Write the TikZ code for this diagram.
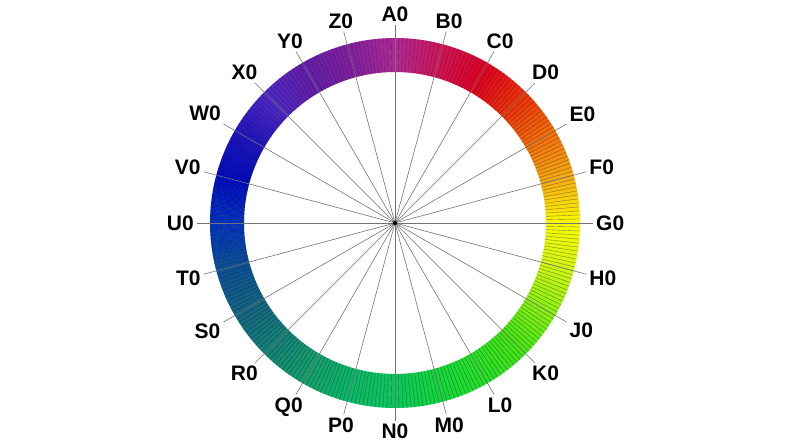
\documentclass[tikz,border=0pt]{standalone}
\usepackage{fontspec}
\setmainfont{Liberation Sans}
\definecolor{hue0}{RGB}{175,40,150}
\definecolor{hue1}{RGB}{210,20,90}
\definecolor{hue2}{RGB}{225,0,35}
\definecolor{hue3}{RGB}{240,50,10}
\definecolor{hue4}{RGB}{245,110,10}
\definecolor{hue5}{RGB}{245,170,20}
\definecolor{hue6}{RGB}{250,250,0}
\definecolor{hue7}{RGB}{210,245,20}
\definecolor{hue8}{RGB}{140,240,20}
\definecolor{hue9}{RGB}{70,230,20}
\definecolor{hue10}{RGB}{40,225,40}
\definecolor{hue11}{RGB}{20,215,60}
\definecolor{hue12}{RGB}{10,200,90}
\definecolor{hue13}{RGB}{10,185,105}
\definecolor{hue14}{RGB}{20,160,110}
\definecolor{hue15}{RGB}{20,130,120}
\definecolor{hue16}{RGB}{20,100,130}
\definecolor{hue17}{RGB}{10,80,150}
\definecolor{hue18}{RGB}{0,50,190}
\definecolor{hue19}{RGB}{0,10,190}
\definecolor{hue20}{RGB}{30,20,190}
\definecolor{hue21}{RGB}{80,40,200}
\definecolor{hue22}{RGB}{100,30,170}
\definecolor{hue23}{RGB}{130,30,160}

\begin{document}
\begin{tikzpicture}[x=1pt,y=1pt,font=\bfseries\fontsize{21}{25}\selectfont,
    spoke/.style={draw=black!55,line width=.6pt},
    tag/.style={inner sep=3pt}]
  \useasboundingbox (-395,-223) rectangle (397,223);

  % colour ring, twelve segments between two spokes
  \foreach \i in {0,...,23} {
    \pgfmathtruncatemacro\nxt{mod(\i+1,24)}
    \foreach \j in {0,...,11} {
      \pgfmathsetmacro\s{90-15*\i-1.25*\j}
      \pgfmathsetmacro\e{\s-1.25}
      \pgfmathtruncatemacro\w{100-(\j+0.5)*100/12}
      \fill[hue\i!\w!hue\nxt] (\s:151) -- (\s:185) -- (\e:185) -- (\e:151) -- cycle;
      \draw[hue\i!\w!hue\nxt!55!black,line width=.4pt] (\s:151) -- (\s:185);
    }
  }

  \coordinate (hub) at (0,0);
  \foreach \name [count=\k from 0] in
    {A0,B0,C0,D0,E0,F0,G0,H0,J0,K0,L0,M0,N0,P0,Q0,R0,S0,T0,U0,V0,W0,X0,Y0,Z0}
  {
    \pgfmathtruncatemacro\a{90-15*\k}
    \pgfmathtruncatemacro\b{mod(630-15*\k,360)}
    \coordinate (end\k) at (\a:198);
    \draw[spoke] (hub) -- (end\k);
    \node[tag,anchor=\b] (lab\k) at (end\k) {\name};
  }
  \fill (hub) circle[radius=2pt];
\end{tikzpicture}
\end{document}
